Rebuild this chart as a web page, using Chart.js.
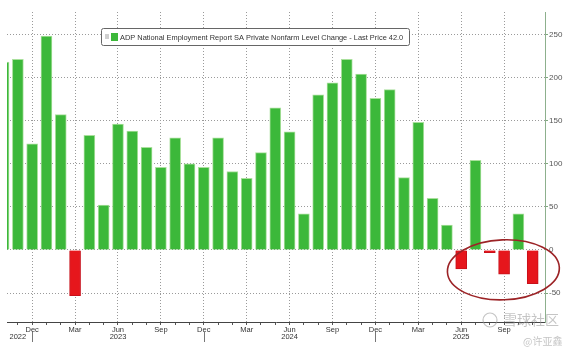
<!DOCTYPE html>
<html>
<head>
<meta charset="utf-8">
<script src="https://cdn.jsdelivr.net/npm/chart.js@4/dist/chart.umd.min.js"></script>
<style>
	html, body { margin: 0; padding: 0; background: #fff; }
	#wrap { width: 572px; height: 353px; }
</style>
</head>
<body>
<div id="wrap"><canvas id="adpChart" width="572" height="353"></canvas></div>
<script>
// Monthly ADP private payroll change (thousands), Oct 2022 .. Nov 2025
const months = [
	"Oct 2022", "Nov 2022", "Dec 2022",
	"Jan 2023", "Feb 2023", "Mar 2023", "Apr 2023", "May 2023", "Jun 2023",
	"Jul 2023", "Aug 2023", "Sep 2023", "Oct 2023", "Nov 2023", "Dec 2023",
	"Jan 2024", "Feb 2024", "Mar 2024", "Apr 2024", "May 2024", "Jun 2024",
	"Jul 2024", "Aug 2024", "Sep 2024", "Oct 2024", "Nov 2024", "Dec 2024",
	"Jan 2025", "Feb 2025", "Mar 2025", "Apr 2025", "May 2025", "Jun 2025",
	"Jul 2025", "Aug 2025", "Sep 2025", "Oct 2025", "Nov 2025",
];
const changes = [
	218, 221, 123,
	248, 157, -53, 133, 52, 146,
	138, 119, 96, 130, 100, 96,
	130, 91, 83, 113, 165, 137,
	42, 180, 194, 221, 204, 176,
	186, 84, 148, 60, 29, -22,
	104, -3, -28, 42, -39,
];
const yTicks = [-50, 0, 50, 100, 150, 200, 250];
const quarterMonths = ["Dec", "Mar", "Jun", "Sep"];
const yearLabels = ["2022", "2023", "2024", "2025"];
const yearLabelMonths = ["Nov 2022", "Jun 2023", "Jun 2024", "Jun 2025"];
const yearBreakMonths = ["Dec 2022", "Dec 2023", "Dec 2024"];
const legendText =
	"ADP National Employment Report SA Private Nonfarm Level Change - Last Price 42.0";

const GREEN = "#3cb83a";
const RED = "#e6161c";
const FONT = "'Liberation Sans', Arial, sans-serif";

const isQuarter = (i) => quarterMonths.includes((months[i] || "").slice(0, 3));

// Extra drawing: legend box, year row, highlight ellipse, watermark
const extras = {
	id: "extras",
	afterDatasetsDraw(chart) {
		const { ctx, scales } = chart;
		const x = scales.x;
		const y = scales.y;

		// red ellipse around the recent negative prints
		ctx.save();
		ctx.strokeStyle = "#9c2326";
		ctx.lineWidth = 1.6;
		ctx.beginPath();
		ctx.ellipse(
			x.getPixelForValue(34.95),
			y.getPixelForValue(-23),
			56, 30, -0.04, 0, Math.PI * 2,
		);
		ctx.stroke();
		ctx.restore();
	},
	afterDraw(chart) {
		const { ctx, scales } = chart;
		const x = scales.x;

		ctx.save();
		// legend box
		ctx.fillStyle = "#fff";
		ctx.strokeStyle = "#666";
		ctx.lineWidth = 1;
		ctx.beginPath();
		ctx.roundRect(101.5, 28.5, 308, 17, 2);
		ctx.fill();
		ctx.stroke();
		ctx.fillStyle = "#cfcfcf";
		ctx.fillRect(105, 34, 4, 5);
		ctx.fillStyle = GREEN;
		ctx.fillRect(111, 33, 7, 8);
		let size = 7.5;
		ctx.font = size + "px " + FONT;
		const w = ctx.measureText(legendText).width;
		size = size * 284 / w;
		ctx.font = size + "px " + FONT;
		ctx.fillStyle = "#333";
		ctx.textBaseline = "middle";
		ctx.fillText(legendText, 120, 37.5);

		// year row under the month labels
		ctx.font = "7.5px " + FONT;
		ctx.textAlign = "center";
		ctx.fillStyle = "#333";
		yearLabels.forEach((yr, k) => {
			const px = x.getPixelForValue(months.indexOf(yearLabelMonths[k]));
			ctx.fillText(yr, px, 336.5);
		});
		ctx.strokeStyle = "#777";
		yearBreakMonths.forEach((m) => {
			const px = Math.round(x.getPixelForValue(months.indexOf(m))) + 0.5;
			ctx.beginPath();
			ctx.moveTo(px, 332);
			ctx.lineTo(px, 342);
			ctx.stroke();
		});

		// watermark
		ctx.strokeStyle = "rgba(150,150,150,0.55)";
		ctx.lineWidth = 1.2;
		ctx.beginPath();
		ctx.arc(490, 320, 7, 0, Math.PI * 2);
		ctx.stroke();
		ctx.fillStyle = "rgba(150,150,150,0.55)";
		ctx.textAlign = "left";
		ctx.font = "14px 'Noto Sans CJK SC'";
		ctx.fillText("雪球社区", 503, 320);
		ctx.font = "10px 'Noto Sans CJK SC'";
		ctx.fillText("@许亚鑫", 523, 341);
		ctx.restore();
	},
};

new Chart(document.getElementById("adpChart"), {
	type: "bar",
	data: {
		datasets: [
			{
				data: changes.map((v, i) => ({ x: i, y: v })),
				backgroundColor: changes.map((v) => (v < 0 ? RED : GREEN)),
				borderColor: changes.map((v) => (v < 0 ? "#c8101a" : "#a9e09c")),
				borderWidth: 1,
				barThickness: 11,
			},
		],
	},
	options: {
		responsive: false,
		animation: false,
		layout: { padding: { left: 7, top: 12, right: 0, bottom: 0 } },
		plugins: {
			legend: { display: false },
			tooltip: { enabled: false },
		},
		scales: {
			x: {
				type: "linear",
				min: 0.24,
				max: 37.86,
				offset: false,
				afterBuildTicks: (s) => {
					s.ticks = months.map((m, i) => ({ value: i })).filter(
						(t) => t.value >= s.min && t.value <= s.max,
					);
				},
				afterFit: (s) => {
					s.height = 31;
				},
				ticks: {
					autoSkip: false,
					maxRotation: 0,
					padding: 0,
					color: "#333",
					font: { size: 7.5, family: FONT },
					callback: (v) => (isQuarter(v) ? months[v].slice(0, 3) : ""),
				},
				grid: {
					offset: false,
					color: (c) => (c.tick && isQuarter(c.tick.value) ? "#9a9a9a" : "rgba(0,0,0,0)"),
					tickColor: "#555",
					tickLength: 3,
				},
				border: { color: "#444", dash: [1, 2] },
			},
			y: {
				position: "right",
				min: -83.5,
				max: 276,
				afterBuildTicks: (s) => {
					s.ticks = yTicks.map((v) => ({ value: v }));
				},
				afterFit: (s) => {
					s.width = 27;
				},
				ticks: {
					padding: 1,
					color: "#555",
					font: { size: 8, family: FONT },
				},
				grid: {
					color: "#9a9a9a",
					tickColor: "#7fa87f",
					tickLength: 3,
				},
				border: { color: "#8db08d", dash: [1, 2] },
			},
		},
	},
	plugins: [extras],
});
</script>
</body>
</html>
